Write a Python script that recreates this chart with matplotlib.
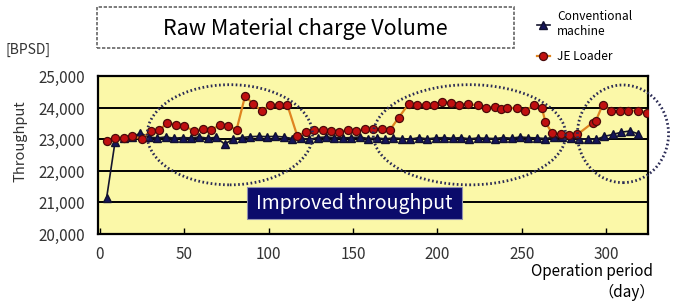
import matplotlib
matplotlib.use("Agg")
import matplotlib.pyplot as plt
from matplotlib.patches import Ellipse, Rectangle

plt.rcParams['font.family'] = ['Noto Sans CJK JP', 'DejaVu Sans']

# Conventional machine (day, BPSD)
conv_days = [4, 9, 14, 19, 24, 29, 34, 39, 44, 49, 54, 59, 64, 69, 74, 79, 84, 89, 94, 99,
             104, 109, 114, 119, 124, 129, 134, 139, 144, 149, 154, 159, 164, 169, 174, 179,
             184, 189, 194, 199, 204, 209, 214, 219, 224, 229, 234, 239, 244, 249, 254, 259,
             264, 269, 274, 279, 284, 289, 294, 299, 304, 309, 314, 319]
conv_vals = [21150, 22930, 23050, 23080, 23200, 23080, 23050, 23080, 23040, 23060, 23050, 23080,
             23040, 23070, 22850, 23020, 23060, 23090, 23100, 23090, 23100, 23080, 23030, 23050,
             23000, 23060, 23080, 23060, 23050, 23060, 23080, 23030, 23050, 23020, 23050, 23030,
             23010, 23060, 23020, 23050, 23060, 23040, 23060, 23020, 23050, 23040, 23030, 23060,
             23040, 23080, 23060, 23050, 23030, 23070, 23080, 23050, 23020, 23020, 23000, 23100,
             23160, 23230, 23270, 23180]

# JE Loader (day, BPSD)
je_days = [4, 9, 14, 19, 25, 30, 35, 40, 45, 50, 56, 61, 66, 71, 76, 81, 86, 91, 96, 101,
           106, 111, 117, 122, 127, 132, 137, 142, 147, 152, 157, 162, 167, 172, 177, 183,
           188, 193, 198, 203, 208, 213, 218, 224, 229, 234, 238, 241, 247, 252, 257, 262,
           264, 268, 273, 278, 283, 292, 294, 298, 303, 308, 313, 319, 324]
je_vals = [22950, 23060, 23060, 23100, 23030, 23270, 23290, 23530, 23470, 23420, 23270, 23340,
           23310, 23450, 23430, 23310, 24370, 24130, 23900, 24110, 24110, 24110, 23110, 23240,
           23310, 23310, 23270, 23240, 23310, 23270, 23340, 23340, 23340, 23310, 23690, 24130,
           24110, 24110, 24110, 24200, 24150, 24110, 24130, 24080, 24000, 24030, 23960, 24000,
           24000, 23920, 24080, 24000, 23550, 23200, 23160, 23130, 23160, 23530, 23600, 24110,
           23900, 23900, 23920, 23920, 23850]

x_ticks = [0, 50, 100, 150, 200, 250, 300]
y_ticks = [20000, 21000, 22000, 23000, 24000, 25000]
y_labels = ['20,000', '21,000', '22,000', '23,000', '24,000', '25,000']

# highlighted periods: (center day, center value, width in days, height)
ellipses = [(77, 23150, 98, 3180), (219, 23150, 114, 3180), (310, 23180, 54, 3100)]

fig = plt.figure(figsize=(6.77, 3.02), dpi=100)
ax = fig.add_axes([0.1443, 0.2252, 0.8133, 0.5215])
ax.set_facecolor('#fbf8a8')

for yv in y_ticks[1:-1]:
    ax.axhline(yv, color='black', lw=1.4, zorder=1)

conv_line, = ax.plot(conv_days, conv_vals, color='#15152e', lw=1.2, marker='^', ms=5.5,
                     mfc='#15155a', mec='#101030', zorder=3, label='Conventional\nmachine')
je_line, = ax.plot(je_days, je_vals, color='#df8420', lw=1.6, marker='o', ms=5.8,
                   mfc='#c01010', mec='#4a0a0a', mew=0.9, zorder=4, label='JE Loader')

for cx, cy, w, h in ellipses:
    ax.add_patch(Ellipse((cx, cy), w, h, fill=False, ec='#2b2b55', lw=2.0,
                         ls=(0, (0.6, 0.9)), clip_on=False, zorder=5))

ax.set_xlim(-1.3, 325)
ax.set_ylim(20000, 25000)
ax.set_xticks(x_ticks)
ax.set_yticks(y_ticks)
ax.set_yticklabels(y_labels)
ax.tick_params(axis='x', direction='in', length=4, width=1, pad=9, labelsize=11, colors='black')
ax.tick_params(axis='y', length=0, pad=9, labelsize=11)
for lbl in ax.get_xticklabels() + ax.get_yticklabels():
    lbl.set_color('#333333')
for sp in ax.spines.values():
    sp.set_linewidth(1.6)

# title box
fig.patches.append(Rectangle((0.1437, 0.840), 0.6157, 0.1358, transform=fig.transFigure,
                             fill=True, fc='white', ec='#666666', lw=1.2, ls=(0, (2, 1))))
fig.text(0.4515, 0.905, 'Raw Material charge Volume', ha='center', va='center', fontsize=15.5)

# improved throughput label
fig.patches.append(Rectangle((0.3653, 0.2738), 0.3167, 0.106, transform=fig.transFigure,
                             fc='#0b0b6b', ec='#9090b0', lw=0.8, zorder=6))
fig.text(0.5236, 0.3268, 'Improved throughput', ha='center', va='center', fontsize=14,
         color='white', zorder=7)

fig.text(0.008, 1 - 50 / 302, '[BPSD]', ha='left', va='center', fontsize=10, color='#333333')
fig.text(0.030, 1 - 141 / 302, 'Throughput', rotation=90, ha='center', va='center',
         fontsize=10.5, color='#333333')
fig.text(0.965, 1 - 272 / 302, 'Operation period', ha='right', va='center', fontsize=11)
fig.text(0.968, 1 - 292 / 302, '（day）', ha='right', va='center', fontsize=11)

fig.legend(handles=[conv_line, je_line], loc='upper left', bbox_to_anchor=(0.782, 0.99),
           frameon=False, fontsize=8.6, handlelength=1.1, handletextpad=0.6,
           labelspacing=1.0, borderaxespad=0.2)

fig.savefig('out.png', dpi=100)
